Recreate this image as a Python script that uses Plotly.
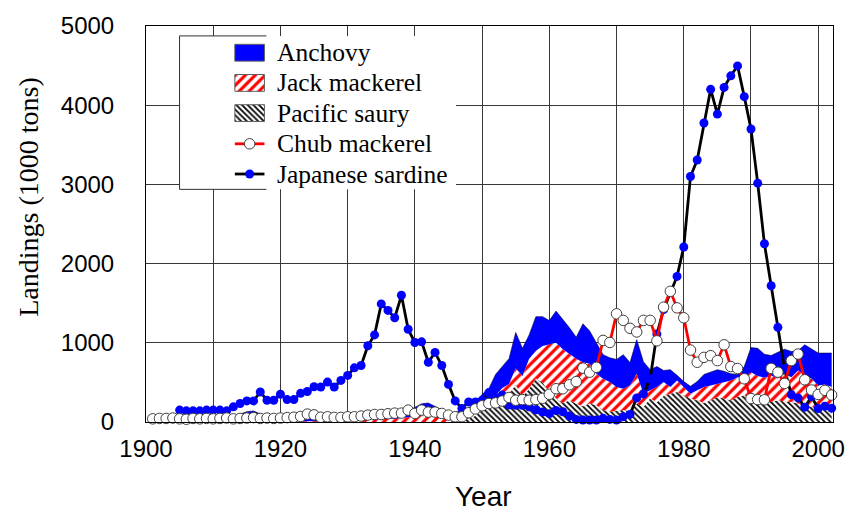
import numpy as np
import plotly.graph_objects as go

# ---------------------------------------------------------------- data
years = list(range(1901, 2003))

# Pacific saury landings (1000 tons)
saury = (
    [0] * 46 +                                   # 1901-1946
    [20, 40, 80,                                 # 1947-1949
     150, 180, 230, 300, 350, 470, 320, 420, 550, 500,      # 1950-1959
     380, 300, 240, 275, 230, 200, 233, 212, 150, 129,      # 1960-1969
     135, 150, 140, 233, 190, 300, 250, 330, 358, 379,      # 1970-1979
     337, 296, 275, 240, 275, 316, 296, 275, 316, 337,      # 1980-1989
     296, 275, 254, 254, 275, 260, 254, 233, 212, 191,      # 1990-1999
     150, 170, 150]                                          # 2000-2002
)

# Jack mackerel landings (1000 tons)
jack = (
    [10] * 29 +                                  # 1901-1929
    [20, 20, 25, 30, 30, 35, 40, 40,             # 1930-1937
     50, 60, 80, 90, 90, 70, 50, 30, 30, 30, 30, 30,        # 1938-1949
     50, 70, 100, 130, 130, 210, 260, 380, 350, 460,        # 1950-1959
     600, 700, 680, 585, 570, 555, 502, 398, 396, 375,      # 1960-1969
     306, 270, 322, 375, 168, 100, 191, 174, 83, 146,       # 1970-1979
     104, 62, 125, 201, 187, 167, 208, 250, 250, 229,       # 1980-1989
     333, 305, 306, 333, 275, 348, 312, 417, 388, 359,      # 1990-1999
     312, 305, 291]                                          # 2000-2002
)

# Anchovy landings (1000 tons)
anchovy = (
    [40] * 12 +                                  # 1901-1912
    [60, 90, 120, 130, 90, 70, 60, 60] +         # 1913-1920
    [60] * 9 +                                   # 1921-1929
    [70] * 8 +                                   # 1930-1937
    [60, 80, 100, 140, 150, 130, 100, 80, 90, 100, 110, 130,  # 1938-1949
     150, 170, 270, 270, 320, 450, 350, 300, 430, 370,      # 1950-1959
     300, 400, 380, 330, 270, 485, 415, 390, 304, 306,      # 1960-1969
     349, 430, 288, 432, 402, 260, 259, 146, 219, 65,       # 1970-1979
     69, 92, 110, 159, 168, 177, 136, 85, 34, 134,          # 1980-1989
     311, 350, 295, 253, 330, 312, 324, 250, 375, 370,      # 1990-1999
     408, 395, 429]                                          # 2000-2002
)

# Chub mackerel landings (1000 tons)
chub = [
    40, 45, 45, 50, 40, 35, 45, 40, 45, 40,                 # 1901-1910
    45, 50, 40, 45, 50, 55, 45, 50, 45, 50,                 # 1911-1920
    55, 60, 70, 100, 90, 60, 66, 58, 58, 66,                # 1921-1930
    66, 75, 87, 95, 95, 104, 112, 112, 150, 108,            # 1931-1940
    150, 125, 125, 108, 87, 66, 66, 117, 165, 205,          # 1941-1950
    233, 241, 265, 310, 275, 283, 275, 283, 300, 350,       # 1951-1960
    420, 420, 470, 510, 680, 629, 690, 1030, 1004, 1366,    # 1961-1970
    1283, 1183, 1137, 1283, 1283, 1025, 1450, 1650, 1441, 1316,  # 1971-1980
    908, 754, 816, 838, 775, 975, 700, 675, 546, 296,       # 1981-1990
    283, 280, 677, 629, 487, 775, 858, 533, 404, 348,       # 1991-2000
    400, 340,                                                # 2001-2002
]

# Japanese sardine landings (1000 tons), records start in 1905
sardine = [None] * 4 + [
    150, 141, 141, 141, 150, 150,                           # 1905-1910
    150, 141, 191, 233, 266, 266, 379, 275, 275, 350,       # 1911-1920
    283, 283, 362, 385, 445, 441, 504, 441, 525, 588,       # 1921-1930
    684, 713, 963, 1100, 1491, 1409, 1316, 1600, 1171, 1004,  # 1931-1940
    1012, 754, 879, 713, 475, 266, 171, 254, 254, 275,      # 1941-1950
    371, 310, 340, 215, 212, 212, 191, 155, 125, 105,       # 1951-1960
    145, 130, 75, 33, 25, 25, 25, 46, 33, 25,               # 1961-1970
    67, 96, 304, 355, 546, 1110, 1420, 1640, 1838, 2210,    # 1971-1980
    3100, 3308, 3775, 4200, 3888, 4225, 4371, 4496, 4108, 3700,  # 1981-1990
    3016, 2250, 1721, 1195, 671, 345, 304, 187, 320, 171,   # 1991-2000
    200, 175,                                                # 2001-2002
]

legend_labels = ["Anchovy", "Jack mackerel", "Pacific saury",
                 "Chub mackerel", "Japanese sardine"]

# ---------------------------------------------------------------- styles
BLUE = "#0000FF"
RED = "#FF0000"
GRID = "#383838"
SERIF = "Liberation Serif"
SANS = "Liberation Sans"

saury_pattern = dict(shape="\\", fgcolor="black", bgcolor="white", fgopacity=1,
                     size=4, solidity=0.45)
jack_pattern = dict(shape="/", fgcolor=RED, bgcolor="white", fgopacity=1,
                    size=7, solidity=0.45)

# stacked tops of the three area layers
saury_top = np.array(saury, dtype=float)
jack_top = saury_top + np.array(jack, dtype=float)
anchovy_top = jack_top + np.array(anchovy, dtype=float)

fig = go.Figure()

fig.add_trace(go.Scatter(
    x=years, y=saury_top, mode="lines", line=dict(width=0, color="black"),
    fill="tozeroy", fillcolor="white", fillpattern=saury_pattern,
    name="Pacific saury", showlegend=False, hoverinfo="skip"))
fig.add_trace(go.Scatter(
    x=years, y=jack_top, mode="lines", line=dict(width=0, color=RED),
    fill="tonexty", fillcolor="white", fillpattern=jack_pattern,
    name="Jack mackerel", showlegend=False, hoverinfo="skip"))
fig.add_trace(go.Scatter(
    x=years, y=anchovy_top, mode="lines", line=dict(width=0.6, color="#000040"),
    fill="tonexty", fillcolor=BLUE,
    name="Anchovy", showlegend=False, hoverinfo="skip"))

fig.add_trace(go.Scatter(
    x=years, y=sardine, mode="lines+markers",
    line=dict(color="black", width=2.8),
    marker=dict(size=9, color=BLUE, line=dict(width=0)),
    name="Japanese sardine", showlegend=False, cliponaxis=False))
fig.add_trace(go.Scatter(
    x=years, y=chub, mode="lines+markers",
    line=dict(color=RED, width=2.8),
    marker=dict(size=10.5, color="white", line=dict(width=1, color="#404040")),
    name="Chub mackerel", showlegend=False, cliponaxis=False))

# ---------------------------------------------------------------- legend box
# drawn on an overlay axis pair measured in screen pixels
L, R, T, B = 146, 842, 22, 422
lx0, lx1, ly0, ly1 = 180, 460, 32, 187
sw0, sw1 = 236, 266
rows = [49, 79.5, 110, 141, 171.5]

fig.add_trace(go.Scatter(
    x=[lx0, lx1, lx1, lx0, lx0], y=[ly0, ly0, ly1, ly1, ly0],
    mode="lines", line=dict(width=0), fill="toself", fillcolor="white",
    xaxis="x2", yaxis="y2", showlegend=False, hoverinfo="skip"))

def swatch(yc, **kw):
    h = 8.5
    fig.add_trace(go.Scatter(
        x=[sw0, sw1, sw1, sw0, sw0], y=[yc - h, yc - h, yc + h, yc + h, yc - h],
        mode="lines", line=dict(width=1, color="#606060"), fill="toself",
        xaxis="x2", yaxis="y2", showlegend=False, hoverinfo="skip", **kw))

swatch(rows[0], fillcolor=BLUE)
swatch(rows[1], fillcolor="white", fillpattern=jack_pattern)
swatch(rows[2], fillcolor="white", fillpattern=saury_pattern)

for yc, lc, mc, mline in [(rows[3], RED, "white", "#404040"),
                          (rows[4], "black", BLUE, BLUE)]:
    fig.add_trace(go.Scatter(
        x=[sw0, sw1], y=[yc, yc], mode="lines", line=dict(color=lc, width=2.8),
        xaxis="x2", yaxis="y2", showlegend=False, hoverinfo="skip"))
    fig.add_trace(go.Scatter(
        x=[(sw0 + sw1) / 2], y=[yc], mode="markers",
        marker=dict(size=10.5 if mc == "white" else 9, color=mc,
                    line=dict(width=1 if mc == "white" else 0, color=mline)),
        xaxis="x2", yaxis="y2", showlegend=False, hoverinfo="skip"))

for yc, label in zip(rows, legend_labels):
    fig.add_annotation(x=277, y=yc, xref="x2", yref="y2", text=label,
                       showarrow=False, xanchor="left", yanchor="middle",
                       font=dict(family=SERIF, size=25.5, color="black"))

fig.add_shape(type="path", xref="x2", yref="y2",
              path=f"M 268 {ly0} L {lx0} {ly0} L {lx0} {ly1} L 268 {ly1}",
              line=dict(color="#303030", width=1))

# ---------------------------------------------------------------- axes
W, H = 857, 513
fig.update_layout(
    width=W, height=H,
    margin=dict(l=L, r=W - R, t=T, b=H - B, pad=0),
    paper_bgcolor="white", plot_bgcolor="white",
    showlegend=False,
    xaxis=dict(
        range=[1900, 2002.2], tick0=1900, dtick=20, showgrid=True,
        gridcolor=GRID, gridwidth=1,
        minor=dict(dtick=10, showgrid=True, gridcolor=GRID, gridwidth=1),
        showline=True, linecolor="black", linewidth=1, mirror=True,
        ticks="", ticklabelstandoff=5,
        tickfont=dict(family=SANS, size=24, color="black"),
        zeroline=False, fixedrange=True),
    yaxis=dict(
        range=[0, 5000], dtick=1000, showgrid=True,
        gridcolor=GRID, gridwidth=1,
        showline=True, linecolor="black", linewidth=1, mirror=True,
        ticks="", ticklabelstandoff=26,
        tickfont=dict(family=SANS, size=24, color="black"),
        zeroline=False, fixedrange=True),
    xaxis2=dict(range=[L, R], overlaying="x", anchor="y2", visible=False,
                fixedrange=True),
    yaxis2=dict(range=[B, T], overlaying="y", anchor="x2", visible=False,
                fixedrange=True),
)

fig.add_annotation(text="Landings (1000 tons)", textangle=-90,
                   x=(27 - L) / (R - L), y=(B - 195) / (B - T),
                   xref="paper", yref="paper", showarrow=False,
                   xanchor="center", yanchor="middle",
                   font=dict(family=SERIF, size=28, color="black"))
fig.add_annotation(text="Year", x=(488 - L) / (R - L), y=(B - 497) / (B - T),
                   xref="paper", yref="paper", showarrow=False,
                   xanchor="center", yanchor="middle",
                   font=dict(family=SANS, size=28, color="black"))

fig.write_html("out.html")
